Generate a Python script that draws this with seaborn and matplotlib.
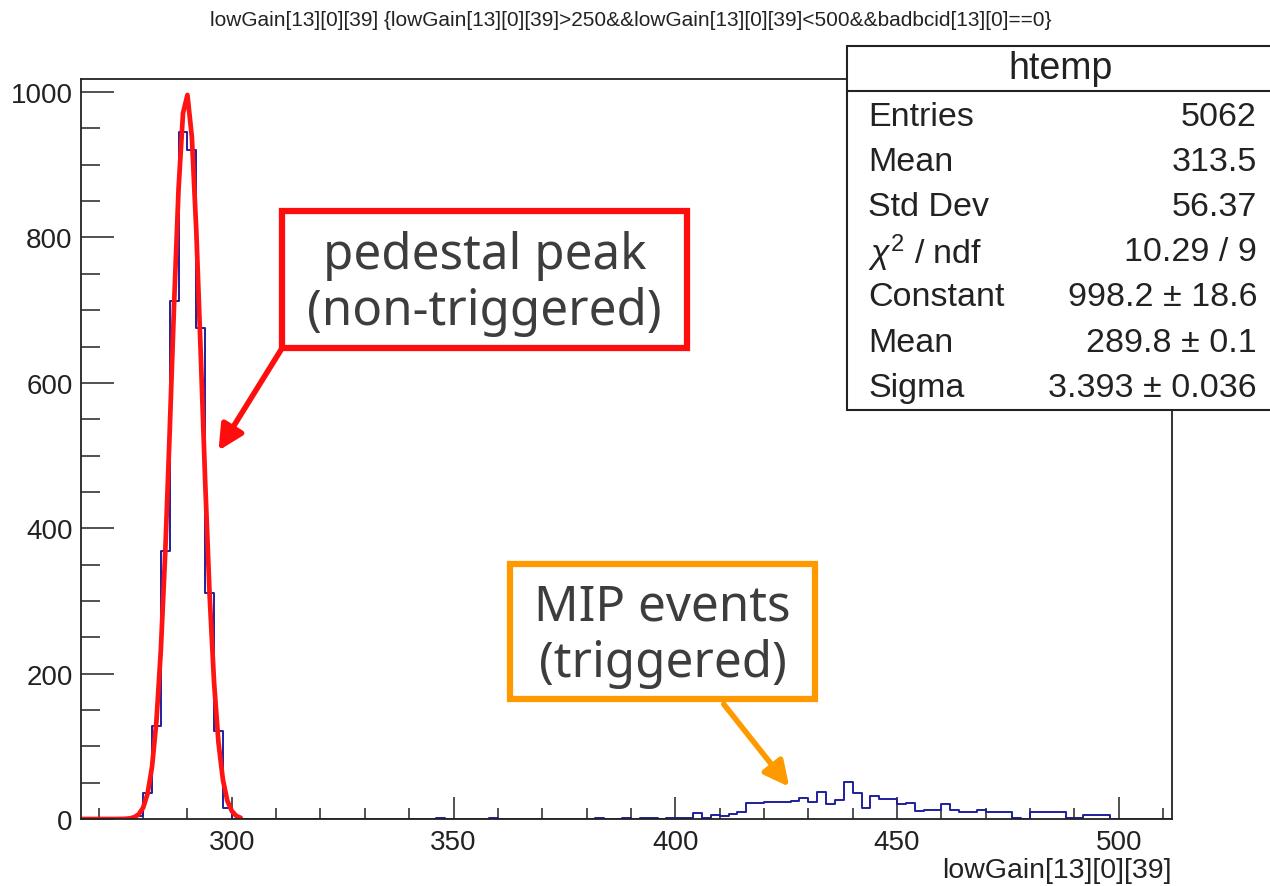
import numpy as np
import pandas as pd
import matplotlib
matplotlib.use("Agg")
import matplotlib.pyplot as plt
from matplotlib.patches import Rectangle
from matplotlib.ticker import MultipleLocator
import seaborn as sns

# ---------------- data ----------------
bin_left = [278, 280, 282, 284, 286, 288, 290, 292, 294, 296, 298,
            346, 358, 382, 388, 392, 394, 398, 400, 402, 404, 406, 408,
            410, 412, 414, 416, 418, 420, 422, 424, 426, 428, 430, 432,
            434, 436, 438, 440, 442, 444, 446, 448, 450, 452, 454, 456,
            458, 460, 462, 464, 466, 468, 470, 472, 474, 476, 480, 482,
            484, 486, 488, 490, 492, 494, 496]
counts = [4, 36, 128, 368, 712, 945, 920, 676, 311, 121, 15,
          2, 2, 2, 2, 2, 2, 2, 2, 2, 8, 1, 5,
          4, 7, 10, 22, 22, 23, 23, 24, 25, 29, 24, 37,
          21, 26, 51, 36, 15, 32, 27, 27, 21, 22, 11, 13,
          13, 21, 13, 10, 10, 13, 9, 9, 10, 1, 10, 10,
          10, 10, 1, 1, 6, 6, 6]
bin_width = 2
hist_range = (266, 512)

# Gaussian fit curve
fit_x = [266, 274, 275, 276, 277, 278, 279, 280, 281, 282, 283, 284, 285, 286,
         287, 288, 289, 290, 291, 292, 293, 294, 295, 296, 297, 298, 299,
         300, 301, 302]
fit_y = [0, 0, 0.1, 0.3, 0.8, 2.4, 6.3, 15.4, 34.5, 71, 134, 232, 367, 533,
         710, 867, 971, 996, 938, 809, 640, 464, 308, 188, 105, 54, 25,
         11, 4.3, 1.6]

title = "lowGain[13][0][39] {lowGain[13][0][39]>250&&lowGain[13][0][39]<500&&badbcid[13][0]==0}"
xlabel = "lowGain[13][0][39]"
stats_name = "htemp"
stats_labels = ["Entries", "Mean", "Std Dev", r"$\chi^{2}$ / ndf", "Constant", "Mean", "Sigma"]
stats_values = ["5062", "313.5", "56.37", "10.29 / 9", "998.2 \u00b1 18.6", "289.8 \u00b1 0.1", "3.393 \u00b1 0.036"]

W, H = 1270, 887
sns.set_style("white")
plt.rcParams['font.family'] = ['Liberation Sans', 'DejaVu Sans']
plt.rcParams['mathtext.fontset'] = 'custom'
plt.rcParams['mathtext.rm'] = 'Liberation Sans'
plt.rcParams['mathtext.it'] = 'Liberation Sans:italic'

fig = plt.figure(figsize=(W / 100, H / 100), dpi=100)
ax = fig.add_axes([81 / W, (H - 820) / H, 1091 / W, 740 / H])

df = pd.DataFrame({"x": np.array(bin_left) + bin_width / 2, "w": counts})
sns.histplot(data=df, x="x", weights="w", binwidth=bin_width, binrange=hist_range,
             element="step", fill=False, color="#1f1f9e", linewidth=1.4, ax=ax)
fit_df = pd.DataFrame({"x": fit_x, "y": fit_y})
sns.lineplot(data=fit_df, x="x", y="y", color="#ff1414", linewidth=3.4, ax=ax,
             sort=False, estimator=None)

ax.set_xlim(hist_range)
ax.set_ylim(0, 1018)
ax.set_xlabel("")
ax.set_ylabel("")
ax.xaxis.set_major_locator(MultipleLocator(50))
ax.xaxis.set_minor_locator(MultipleLocator(10))
ax.yaxis.set_major_locator(MultipleLocator(200))
ax.yaxis.set_minor_locator(MultipleLocator(50))
ax.tick_params(axis='x', which='major', direction='in', length=15.8, width=1.1,
               labelsize=20, pad=7, colors='#222222', top=False, bottom=True)
ax.tick_params(axis='x', which='minor', direction='in', length=7.9, width=1.1,
               top=False, bottom=True, colors='#222222')
ax.tick_params(axis='y', which='major', direction='in', length=24, width=1.1,
               labelsize=20, pad=6, colors='#222222', right=False, left=True)
ax.tick_params(axis='y', which='minor', direction='in', length=13.7, width=1.1,
               left=True, right=False, colors='#222222')
for s in ax.spines.values():
    s.set_linewidth(1.3)
    s.set_color('#222222')

fig.text(1172 / W, 1 - 878 / H, xlabel, ha='right', va='baseline', fontsize=20.5,
         color='#222222')
fig.text(631 / W, 1 - 20 / H, title, ha='center', va='center', fontsize=15,
         family=['Liberation Sans Narrow', 'Liberation Sans'], color='#222222')

# stats box
def fpx(x, y):
    return (x / W, 1 - y / H)

x0, y0, x1, y1 = 847, 47, 1290, 411
fig.add_artist(Rectangle(fpx(x0, y1), (x1 - x0) / W, (y1 - y0) / H,
                         transform=fig.transFigure, facecolor='white',
                         edgecolor='#222222', linewidth=1.5, zorder=5))
fig.add_artist(plt.Line2D([x0 / W, 1], [1 - 92 / H, 1 - 92 / H],
                          transform=fig.transFigure, color='#222222', lw=1.5, zorder=6))
fig.text(1061 / W, 1 - 69 / H, stats_name, ha='center', va='center', fontsize=27,
         color='#222222', zorder=7)
row_y = [118, 163, 208, 253, 298, 344, 389]
for lab, val, yy in zip(stats_labels, stats_values, row_y):
    fig.text(868 / W, 1 - yy / H, lab, ha='left', va='center', fontsize=24.5,
             color='#222222', zorder=7)
    fig.text(1257 / W, 1 - yy / H, val, ha='right', va='center', fontsize=24.5,
             color='#222222', zorder=7)

# annotation boxes
box_font = ['Noto Sans', 'DejaVu Sans']
def draw_box(xa, ya, xb, yb, color, text, cx, cy):
    fig.add_artist(Rectangle(fpx(xa, yb), (xb - xa) / W, (yb - ya) / H,
                             transform=fig.transFigure, facecolor='white',
                             edgecolor=color, linewidth=4.5, zorder=8))
    fig.text(cx / W, 1 - cy / H, text, ha='center', va='center', fontsize=35.5,
             family=box_font, color='#3d3d3d', linespacing=1.16, zorder=9)

draw_box(282, 212, 687, 349, '#ff0d0d', "pedestal peak\n(non-triggered)", 484.5, 284)
draw_box(510, 565, 815, 700, '#ff9900', "MIP events\n(triggered)", 662.5, 636)

ax.annotate("", xy=(217, H - 454), xycoords='figure pixels',
            xytext=(284, H - 346), textcoords='figure pixels',
            arrowprops=dict(arrowstyle='-|>,head_width=0.75,head_length=1.5',
                            color='#ff0d0d', lw=4), zorder=10)
ax.annotate("", xy=(791, H - 790), xycoords='figure pixels',
            xytext=(722, H - 703), textcoords='figure pixels',
            arrowprops=dict(arrowstyle='-|>,head_width=0.75,head_length=1.5',
                            color='#ff9900', lw=4), zorder=10)

fig.savefig("out.png", dpi=100)
